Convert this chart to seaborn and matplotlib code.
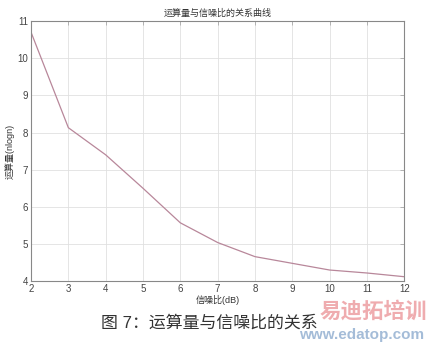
import matplotlib
matplotlib.use("Agg")
import matplotlib.pyplot as plt
import seaborn as sns
import pandas as pd

snr_db = [2, 3, 4, 5, 6, 7, 8, 9, 10, 11, 12]
ops = [10.70, 8.13, 7.40, 6.50, 5.57, 5.04, 4.66, 4.48, 4.30, 4.22, 4.12]
x_ticks = [2, 3, 4, 5, 6, 7, 8, 9, 10, 11, 12]
y_ticks = [4, 5, 6, 7, 8, 9, 10, 11]

sns.set_theme(style="whitegrid")
plt.rcParams['font.family'] = ['Liberation Sans', 'Noto Sans CJK SC', 'DejaVu Sans']

df = pd.DataFrame({"snr": snr_db, "ops": ops})
fig = plt.figure(figsize=(4.31, 3.45), dpi=100)
ax = fig.add_axes([0.072, 0.185, 0.866, 0.754])
sns.lineplot(data=df, x="snr", y="ops", ax=ax, color="#b8879a", linewidth=0.9)
ax.set_xlim(2, 12)
ax.set_ylim(4, 11)
ax.set_xticks(x_ticks)
ax.set_yticks(y_ticks)
ax.tick_params(axis="both", labelsize=7, direction="in", length=3, width=0.6,
               pad=2, top=True, right=True, color="#aaaaaa", labelcolor="#444444")
ax.grid(True, color="#e0e0e0", linewidth=0.6)
for s in ax.spines.values():
    s.set_color("#888888")
    s.set_linewidth(0.8)
ax.set_facecolor("white")
ax.set_title("运算量与信噪比的关系曲线", fontsize=6.5, color="#333333", pad=4)
ax.set_xlabel("信噪比(dB)", fontsize=6.5, color="#333333", labelpad=1)
ax.set_ylabel("运算量(nlogn)", fontsize=6.5, color="#333333", labelpad=2)

fig.text(0.485, 0.065, "图 7：运算量与信噪比的关系", fontsize=12.2, ha="center",
         va="center", color="#333333")
fig.text(0.99, 0.095, "易迪拓培训", fontsize=15.5, ha="right", va="center",
         color="#e05a60", alpha=0.5, fontweight="bold")
fig.text(0.985, 0.028, "www.edatop.com", fontsize=11, ha="right", va="center",
         color="#5a86b8", alpha=0.55, fontweight="bold")
fig.savefig("out.png", dpi=100)
